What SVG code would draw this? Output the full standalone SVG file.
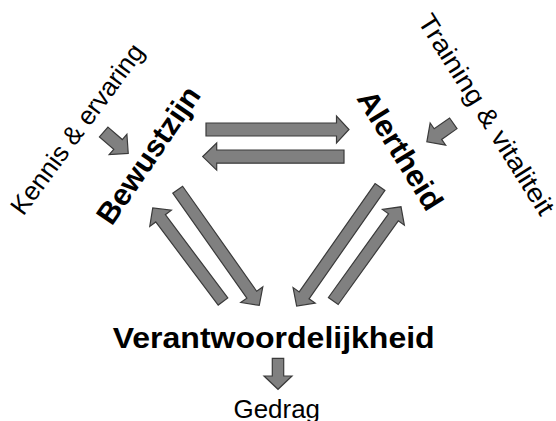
<svg xmlns="http://www.w3.org/2000/svg" width="556" height="421" viewBox="0 0 556 421">
<style>
.arr{fill:#808080;stroke:#3a3a3a;stroke-width:1.2;stroke-linejoin:miter}
.b{font-family:"Liberation Sans",Arial,sans-serif;font-weight:bold;font-size:30px;fill:#000}
.r{font-family:"Liberation Sans",Arial,sans-serif;font-size:26px;fill:#000}
</style>
<rect width="556" height="421" fill="#fff"/>
<g id="connectors">
<path class="arr" d="M206,123 H336.5 V116 L349,129.5 L336.5,143 V136 H206 Z"/>
<path class="arr" d="M344,150 H216.7 V143 L202.7,156.6 L216.7,170.2 V163.2 H344 Z"/>
<path class="arr" transform="translate(177.7,189.7) rotate(54.8)" d="M0,-6 H128.5 V-13.5 L141.5,0 L128.5,13.5 V6 H0 Z"/>
<path class="arr" transform="translate(223,301.5) rotate(233.1)" d="M0,-6 H104 V-13.5 L117,0 L104,13.5 V6 H0 Z"/>
<path class="arr" transform="translate(380,187) rotate(125)" d="M0,-6 H132.3 V-13.5 L145.3,0 L132.3,13.5 V6 H0 Z"/>
<path class="arr" transform="translate(333.3,301) rotate(-54.3)" d="M0,-6 H103 V-13.5 L116,0 L103,13.5 V6 H0 Z"/>
<path class="arr" transform="translate(103.7,132) rotate(41)" d="M0,-6.5 H19 V-13.5 L32.5,0 L19,13.5 V6.5 H0 Z"/>
<path class="arr" transform="translate(453.3,123.3) rotate(145)" d="M0,-6.5 H18.8 V-13.5 L32.3,0 L18.8,13.5 V6.5 H0 Z"/>
<path class="arr" d="M272.3,358.3 H283.7 V376 H292 L278,389.3 L264,376 H272.3 Z"/>
</g>
<g id="node-bewustzijn"><text class="b" transform="translate(111.7,226.7) rotate(-55.6)" textLength="159.5" lengthAdjust="spacingAndGlyphs">Bewustzijn</text></g>
<g id="node-alertheid"><text class="b" transform="translate(356,98.3) rotate(58.2)" textLength="135" lengthAdjust="spacingAndGlyphs">Alertheid</text></g>
<g id="node-verantwoordelijkheid"><text class="b" x="112.7" y="348" textLength="322" lengthAdjust="spacingAndGlyphs">Verantwoordelijkheid</text></g>
<g id="node-gedrag"><text class="r" x="233.5" y="418.3" textLength="86.5" lengthAdjust="spacingAndGlyphs">Gedrag</text></g>
<g id="node-kennis"><text class="r" transform="translate(23.3,216.7) rotate(-53.5)" textLength="205" lengthAdjust="spacingAndGlyphs">Kennis &amp; ervaring</text></g>
<g id="node-training"><text class="r" transform="translate(417,21) rotate(57.8)" textLength="232" lengthAdjust="spacingAndGlyphs">Training &amp; vitaliteit</text></g>
</svg>
